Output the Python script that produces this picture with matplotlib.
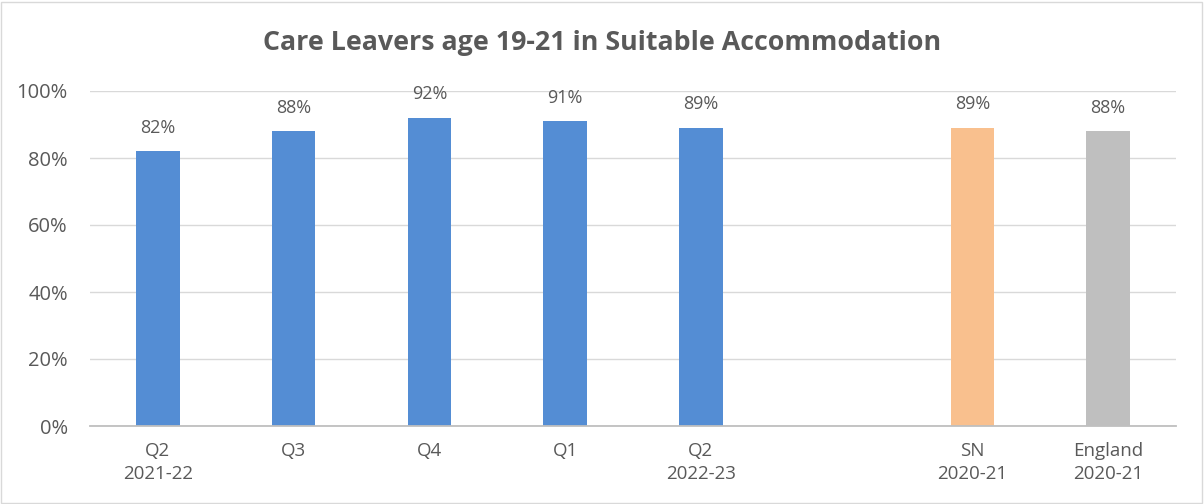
import matplotlib
matplotlib.use("Agg")
import matplotlib.pyplot as plt
import numpy as np

categories = ["Q2\n2021-22", "Q3", "Q4", "Q1", "Q2\n2022-23", "", "SN\n2020-21", "England\n2020-21"]
values = [82, 88, 92, 91, 89, None, 89, 88]
bar_colors = ["#548DD4", "#548DD4", "#548DD4", "#548DD4", "#548DD4", None, "#F9C08E", "#BFBFBF"]
yticks = [0, 20, 40, 60, 80, 100]
title = "Care Leavers age 19-21 in Suitable Accommodation"

plt.rcParams['font.family'] = ['Open Sans', 'DejaVu Sans']
txt = "#595959"

fig = plt.figure(figsize=(12.04, 5.04), dpi=100)
ax = fig.add_axes([90/1204, 78/504, (1176-90)/1204, (426-91)/504])

x = np.arange(len(categories))
for xi, v, c in zip(x, values, bar_colors):
    if v is None:
        continue
    ax.bar(xi, v, width=0.32, color=c, zorder=3)
    ax.text(xi, v + 4.3, f"{v}%", ha="center", va="bottom", fontsize=13, color=txt)

ax.set_xlim(-0.5, len(categories) - 0.5)
ax.set_ylim(0, 100)
ax.set_yticks(yticks)
ax.set_yticklabels([f"{t}%" for t in yticks], fontsize=14.5, color=txt)
ax.set_xticks(x)
ax.set_xticklabels(categories, fontsize=13.5, color=txt, linespacing=1.35)
ax.tick_params(axis="both", length=0)
ax.tick_params(axis="y", pad=16)
ax.tick_params(axis="x", pad=11.5)
ax.grid(axis="y", color="#D9D9D9", linewidth=1, zorder=0)
ax.set_axisbelow(True)
for s in ["top", "right", "left"]:
    ax.spines[s].set_visible(False)
ax.spines["bottom"].set_color("#BFBFBF")
ax.spines["bottom"].set_linewidth(1.3)
ax.spines["bottom"].set_zorder(4)

fig.text(0.5, 1 - 43/504, title, ha="center", va="center", fontsize=19.3, fontweight="bold", color=txt)
fig.patches.append(plt.Rectangle((0.001, 0.002), 0.997, 0.995, transform=fig.transFigure,
                                 fill=False, edgecolor="#D9D9D9", linewidth=1))
fig.savefig("out.png", dpi=100)
